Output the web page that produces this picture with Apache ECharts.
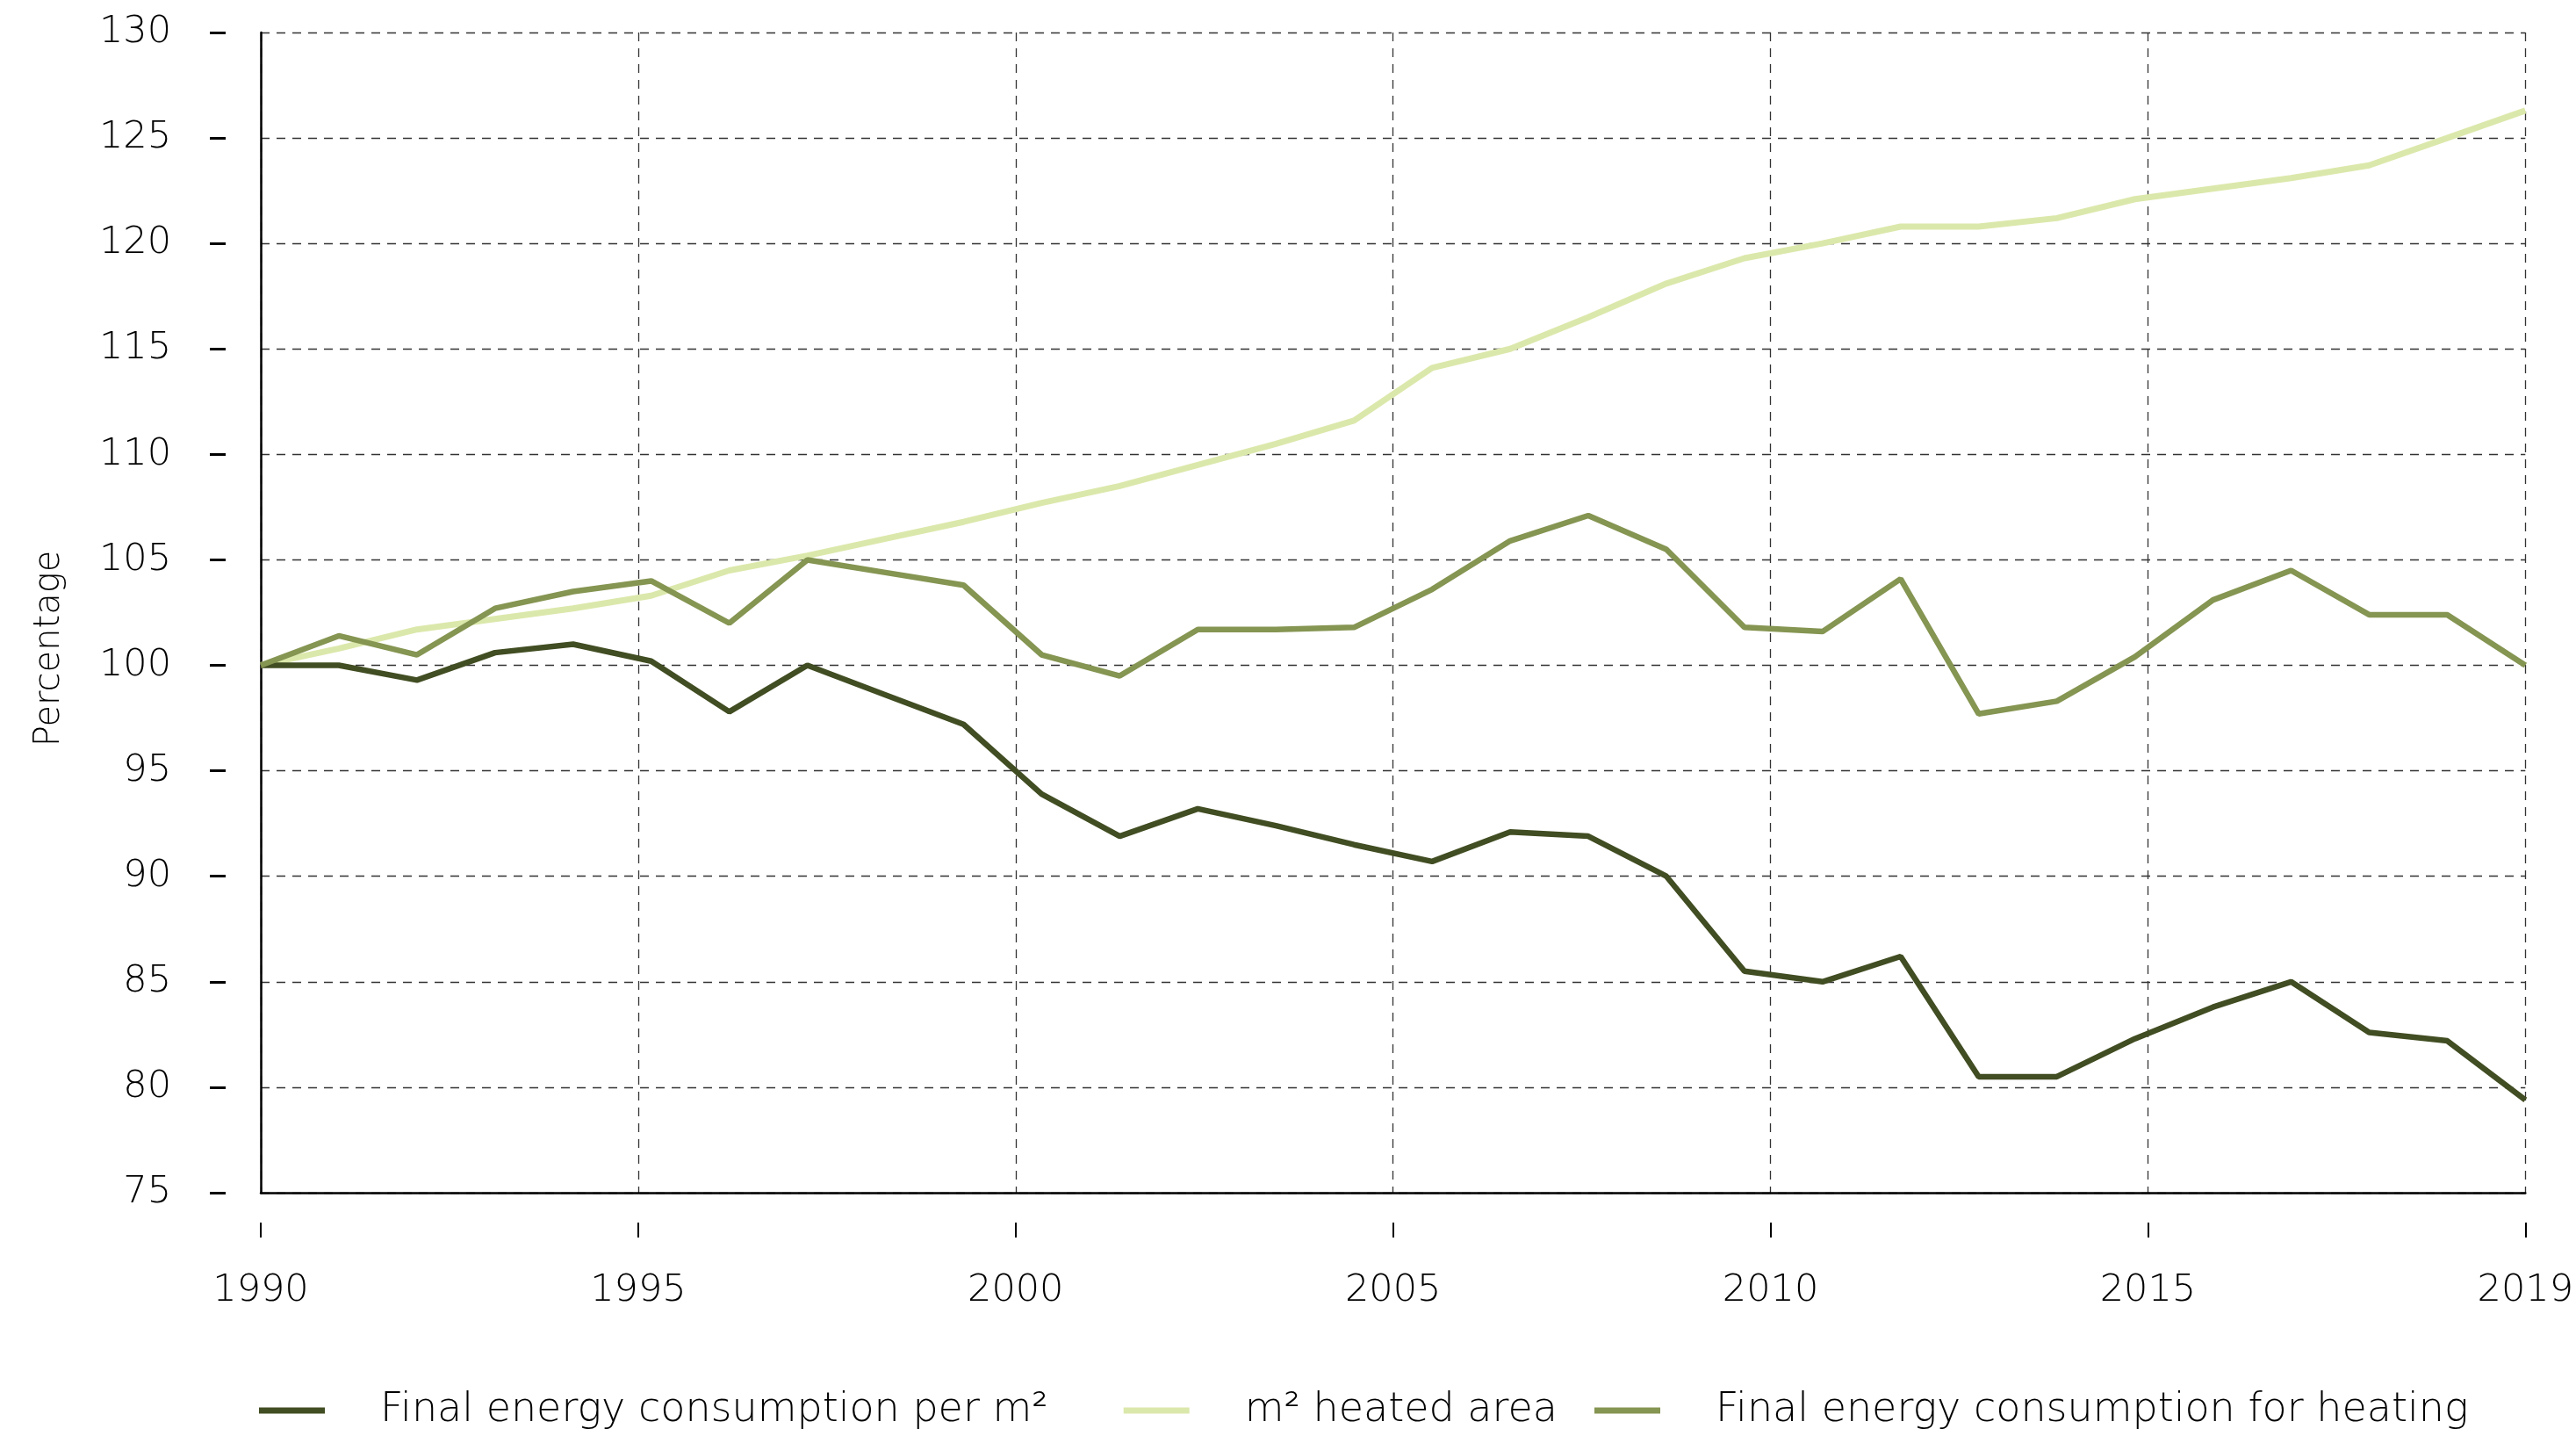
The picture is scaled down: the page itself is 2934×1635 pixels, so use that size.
<!DOCTYPE html>
<html>
<head>
<meta charset="utf-8">
<title>Energy consumption for heating</title>
<script src="https://cdn.jsdelivr.net/npm/echarts@6/dist/echarts.min.js"></script>
<style>
  html, body { margin: 0; padding: 0; background: #fff; }
  #chart { width: 2934px; height: 1635px; }
</style>
</head>
<body>
<div id="chart"></div>
<script>
// years on the data axis
var years = [];
for (var y = 1990; y <= 2019; y++) years.push(String(y));

// labels under the axis (last one sits at the right edge)
var tickLabels = ['1990', '1995', '2000', '2005', '2010', '2015', '2019'];

// index 1990 = 100
var perM2 = [100, 100, 99.3, 100.6, 101.0, 100.2, 97.8, 100.0, 98.6, 97.2,
  93.9, 91.9, 93.2, 92.4, 91.5, 90.7, 92.1, 91.9, 90.0, 85.5,
  85.0, 86.2, 80.5, 80.5, 82.3, 83.8, 85.0, 82.6, 82.2, 79.4];
var heatedArea = [100, 100.8, 101.7, 102.2, 102.7, 103.3, 104.5, 105.2, 106.0, 106.8,
  107.7, 108.5, 109.5, 110.5, 111.6, 114.1, 115.0, 116.5, 118.1, 119.3,
  120.0, 120.8, 120.8, 121.2, 122.1, 122.6, 123.1, 123.7, 125.0, 126.3];
var heating = [100, 101.4, 100.5, 102.7, 103.5, 104.0, 102.0, 105.0, 104.4, 103.8,
  100.5, 99.5, 101.7, 101.7, 101.8, 103.6, 105.9, 107.1, 105.5, 101.8,
  101.6, 104.1, 97.7, 98.3, 100.4, 103.1, 104.5, 102.4, 102.4, 100.0];

var names = ['Final energy consumption per m²', 'm² heated area', 'Final energy consumption for heating'];
var colors = ['#414d22', '#dbe8ab', '#859552'];

var font = '"DejaVu Sans", "Open Sans", sans-serif';
var gridDash = { color: '#333', width: 1.3, type: [10, 8] };

function legendAt(left, data) {
  return {
    left: left,
    top: 1578,
    icon: 'rect',
    itemWidth: 75,
    itemHeight: 7,
    itemGap: 86,
    textStyle: { fontSize: 46, fontWeight: 200, color: '#000', padding: [0, 0, 0, 58], fontFamily: font },
    data: data
  };
}

var chart = echarts.init(document.getElementById('chart'));
var option = {
  animation: false,
  backgroundColor: '#fff',
  textStyle: { fontFamily: font },
  grid: { left: 297, right: 50, top: 37, bottom: 277 },
  legend: [
    legendAt(290, [names[0], names[1]]),
    legendAt(1811, [names[2]])
  ],
  xAxis: [
    {
      // data axis, one point per year spread over the full width
      type: 'category',
      data: years,
      boundaryGap: false,
      show: false
    },
    {
      // axis line and vertical grid
      type: 'value',
      min: 1990, max: 2020, interval: 5,
      position: 'bottom',
      axisLine: { show: true, lineStyle: { color: '#000', width: 2.5 } },
      axisTick: { show: false },
      axisLabel: { show: false },
      splitLine: { show: true, lineStyle: gridDash }
    },
    {
      // detached ticks and labels
      type: 'value',
      min: 1990, max: 2020, interval: 5,
      position: 'bottom',
      offset: 34,
      axisLine: { show: false },
      axisTick: { show: true, length: 17, lineStyle: { color: '#000', width: 2 } },
      axisLabel: {
        margin: 56,
        fontSize: 43,
        fontWeight: 200,
        color: '#000',
        formatter: function (v) { return tickLabels[Math.round((v - 1990) / 5)]; }
      },
      splitLine: { show: false }
    }
  ],
  yAxis: [
    {
      type: 'value',
      min: 75, max: 130, interval: 5,
      axisLine: { show: true, lineStyle: { color: '#000', width: 2.5 } },
      axisTick: { show: false },
      axisLabel: { show: false },
      splitLine: { show: true, lineStyle: gridDash }
    },
    {
      type: 'value',
      min: 75, max: 130, interval: 5,
      position: 'left',
      offset: 40,
      name: 'Percentage',
      nameLocation: 'middle',
      nameRotate: 90,
      nameGap: 180,
      nameTextStyle: { fontSize: 40, fontWeight: 200, color: '#000', fontFamily: font, padding: [0, 82, 0, 0] },
      axisLine: { show: false },
      axisTick: { show: true, length: 18, lineStyle: { color: '#000', width: 3 } },
      axisLabel: { margin: 62, fontSize: 43, fontWeight: 200, color: '#000' },
      splitLine: { show: false }
    }
  ],
  series: [
    { name: names[0], type: 'line', data: perM2 },
    { name: names[1], type: 'line', data: heatedArea },
    { name: names[2], type: 'line', data: heating }
  ].map(function (s, i) {
    s.xAxisIndex = 0;
    s.yAxisIndex = 0;
    s.showSymbol = false;
    s.color = colors[i];
    s.lineStyle = { color: colors[i], width: i === 1 ? 7 : 6.5 };
    s.z = i === 1 ? 2 : 3;
    return s;
  })
};
chart.setOption(option);
</script>
</body>
</html>
